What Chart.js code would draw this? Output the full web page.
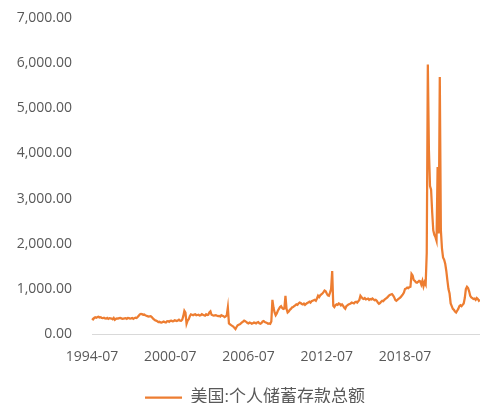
<!DOCTYPE html>
<html>
<head>
<meta charset="utf-8">
<script src="https://cdn.jsdelivr.net/npm/chart.js@4"></script>
<style>
html,body{margin:0;padding:0;background:#fff;overflow:hidden;}
#wrap{position:relative;width:480px;height:416px;}
</style>
</head>
<body>
<div id="wrap"><canvas id="c"></canvas></div>
<script>
// Monthly series starts 1994-07, ends 2024-04
const startYear = 1994, startMonth = 7;
const seriesName = "美国:个人储蓄存款总额";
const v1994 = [350, 330, 360, 375, 365, 380];
const v1995 = [385, 370, 375, 360, 355, 365, 350, 345, 360, 340, 355, 350];
const v1996 = [345, 330, 360, 320, 340, 350, 345, 355, 360, 350, 340, 345];
const v1997 = [350, 355, 340, 360, 355, 345, 350, 360, 340, 355, 365, 360];
const v1998 = [380, 410, 440, 450, 445, 430, 435, 420, 410, 400, 390, 395];
const v1999 = [400, 380, 350, 330, 310, 300, 290, 270, 275, 260, 255, 270];
const v2000 = [280, 265, 260, 285, 290, 275, 295, 300, 285, 290, 310, 300];
const v2001 = [290, 305, 320, 300, 295, 320, 400, 520, 480, 230, 300, 330];
const v2002 = [400, 440, 430, 420, 435, 440, 420, 425, 430, 415, 420, 445];
const v2003 = [430, 420, 410, 440, 425, 430, 480, 505, 430, 420, 410, 415];
const v2004 = [420, 410, 400, 405, 390, 420, 410, 400, 380, 395, 420, 590];
const v2005 = [240, 220, 200, 185, 170, 140, 115, 160, 195, 210, 220, 240];
const v2006 = [260, 280, 300, 290, 270, 250, 240, 260, 250, 230, 240, 260];
const v2007 = [250, 240, 260, 270, 240, 230, 250, 280, 290, 270, 260, 250];
const v2008 = [230, 240, 230, 280, 760, 590, 480, 420, 460, 520, 560, 600];
const v2009 = [620, 580, 560, 570, 850, 560, 480, 500, 540, 560, 590, 600];
const v2010 = [620, 640, 660, 650, 680, 700, 690, 670, 660, 680, 650, 670];
const v2011 = [690, 700, 720, 700, 730, 740, 750, 760, 740, 790, 850, 820];
const v2012 = [860, 880, 900, 930, 965, 950, 900, 860, 850, 920, 1000, 1400];
const v2013 = [630, 600, 640, 660, 650, 680, 670, 640, 660, 630, 590, 565];
const v2014 = [620, 640, 660, 670, 680, 700, 690, 680, 710, 720, 700, 730];
const v2015 = [760, 850, 820, 790, 780, 800, 770, 780, 790, 760, 780, 770];
const v2016 = [790, 770, 750, 760, 740, 700, 675, 690, 720, 740, 730, 760];
const v2017 = [780, 800, 820, 850, 870, 880, 890, 860, 820, 760, 740, 760];
const v2018 = [780, 800, 820, 850, 880, 920, 1000, 1010, 1030, 1020, 1040, 1050];
const v2019 = [1335, 1300, 1200, 1180, 1150, 1140, 1160, 1180, 1170, 1100, 1180, 1060];
const v2020 = [1150, 1100, 1800, 5970, 4070, 3280, 3200, 2700, 2300, 2200, 2150, 2070];
const v2021 = [3700, 2230, 5694, 2300, 1900, 1700, 1650, 1560, 1400, 1190, 1000, 900];
const v2022 = [680, 620, 560, 540, 500, 480, 520, 560, 620, 640, 620, 650];
const v2023 = [680, 800, 1000, 1050, 1020, 950, 850, 815, 800, 780, 790, 760];
const v2024 = [800, 780, 740, 760];
const yTicks = [0, 1000, 2000, 3000, 4000, 5000, 6000, 7000];
const xTickLabels = ["1994-07", "2000-07", "2006-07", "2012-07", "2018-07"];

const values = [].concat(v1994, v1995, v1996, v1997, v1998, v1999, v2000, v2001, v2002, v2003,
  v2004, v2005, v2006, v2007, v2008, v2009, v2010, v2011, v2012, v2013, v2014, v2015,
  v2016, v2017, v2018, v2019, v2020, v2021, v2022, v2023, v2024);
const categories = values.map((_, i) => {
  const t = (startYear * 12 + startMonth - 1) + i;
  const y = Math.floor(t / 12), m = t % 12 + 1;
  return y + "-" + String(m).padStart(2, "0");
});

const FONT = "'Open Sans', 'Noto Sans CJK SC', sans-serif";
const legendShift = {
  id: "legendShift",
  afterLayout(chart) {
    if (chart.legend) { chart.legend.left += 15; chart.legend.right += 15; }
  }
};
new Chart(document.getElementById("c"), {
  type: "line",
  data: {
    labels: categories,
    datasets: [{
      label: seriesName,
      data: values,
      borderColor: "#ED7D31",
      backgroundColor: "#ED7D31",
      borderWidth: 2.25,
      pointRadius: 0,
      tension: 0,
      fill: false
    }]
  },
  plugins: [legendShift],
  options: {
    responsive: true,
    maintainAspectRatio: false,
    animation: false,
    layout: { padding: { top: 0, right: 0, left: 0, bottom: 0 } },
    plugins: {
      tooltip: { enabled: false },
      legend: {
        position: "bottom",
        labels: {
          usePointStyle: true,
          pointStyle: "line",
          pointStyleWidth: 37,
          color: "#595959",
          font: { family: FONT, size: 17 },
          padding: 10
        }
      }
    },
    scales: {
      x: {
        type: "category",
        offset: false,
        afterFit: s => { s.paddingRight = 0; },
        grid: { display: false, drawTicks: false },
        border: { display: true, color: "#d9d9d9", width: 1 },
        ticks: {
          autoSkip: false,
          maxRotation: 0,
          minRotation: 0,
          padding: 14,
          color: "#595959",
          font: { family: FONT, size: 14 },
          callback: function(v, i) {
            const lab = categories[i];
            return xTickLabels.includes(lab) ? lab : "";
          }
        }
      },
      y: {
        min: 0,
        max: 7000,
        afterFit: s => { s.width = 92; s.paddingTop = 18; },
        grid: { display: false, drawTicks: false },
        border: { display: false },
        afterBuildTicks: s => { s.ticks = yTicks.map(v => ({ value: v })); },
        ticks: {
          padding: 20,
          color: "#595959",
          font: { family: FONT, size: 14 },
          callback: v => Number(v).toLocaleString("en-US", { minimumFractionDigits: 2, maximumFractionDigits: 2 })
        }
      }
    }
  }
});
</script>
</body>
</html>
